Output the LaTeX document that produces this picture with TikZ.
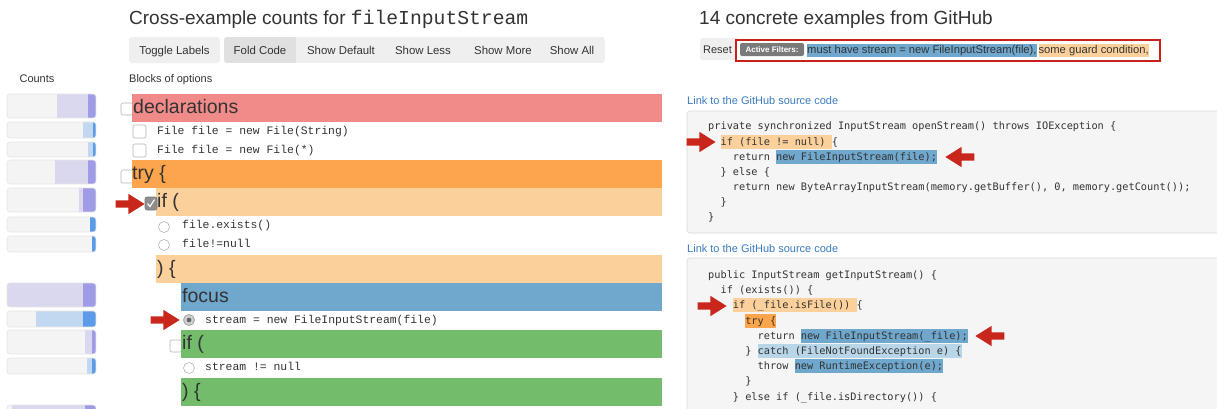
\documentclass[tikz,border=0pt]{standalone}
\usepackage{fontspec}
\setmainfont{Liberation Sans}
\newfontfamily\lmono{Liberation Mono}
\newfontfamily\codefont{DejaVu Sans Mono}
\usetikzlibrary{shapes.arrows}
\definecolor{txt}{HTML}{333333}
\definecolor{redblk}{HTML}{F08B89}
\definecolor{orgblk}{HTML}{FCA54C}
\definecolor{lorange}{HTML}{FBD09B}
\definecolor{fblue}{HTML}{6FA7CD}
\definecolor{lblue}{HTML}{B9D5E8}
\definecolor{grnblk}{HTML}{72BC6B}
\definecolor{arrowred}{HTML}{C9261C}
\definecolor{boxbg}{HTML}{F5F5F5}
\definecolor{boxbd}{HTML}{DADADA}
\definecolor{linkc}{HTML}{3A7BC0}
\definecolor{btnbg}{HTML}{EFEFEF}
\definecolor{btnact}{HTML}{E0E0E0}
\definecolor{cbord}{HTML}{B4B4B4}
\definecolor{barbg}{HTML}{F4F4F4}
\definecolor{barbd}{HTML}{E4E4E4}
\definecolor{lpur}{HTML}{D9D8EF}
\definecolor{dpur}{HTML}{9E9BE7}
\definecolor{lblu}{HTML}{C2D8F0}
\definecolor{dblu}{HTML}{5C9BE7}
\definecolor{filtred}{HTML}{C8201A}
\definecolor{badge}{HTML}{7A7A7A}
\definecolor{chkfill}{HTML}{8E8E8E}
\newcommand\hl[2]{{\setlength{\fboxsep}{0pt}\colorbox{#1}{\rule[-3.5pt]{0pt}{14pt}#2}}}
\newcommand\hlf[2]{{\setlength{\fboxsep}{0pt}\colorbox{#1}{\rule[-3pt]{0pt}{12.5pt}#2}}}
\newcommand\cbar[7]{%
  \begin{scope}
    \clip[rounded corners=3pt] (7,#1) rectangle (96,#2);
    \fill[barbg] (7,#1) rectangle (96,#2);
    \fill[#5] (#3,#1) rectangle (#4,#2);
    \fill[#6] (#4,#1) rectangle (96,#2);
  \end{scope}
  \draw[barbd, line width=0.6pt, rounded corners=3pt] (7,#1) rectangle (96,#2);
  \coordinate (#7) at (51.5,#1);
}
\begin{document}
\begin{tikzpicture}[x=1pt, y=-1pt,
  code/.style={anchor=base west, inner sep=0pt, font=\fontsize{10.27}{12}\selectfont\codefont, text=txt},
  opt/.style={anchor=base west, inner sep=0pt, font=\fontsize{11.4}{13}\selectfont\lmono, text=txt},
  big/.style={anchor=base west, inner sep=0pt, font=\fontsize{19.5}{22}\selectfont, text=txt},
  ui/.style={anchor=base, inner sep=0pt, font=\fontsize{11.4}{13}\selectfont, text=txt},
  small/.style={anchor=base west, inner sep=0pt, font=\fontsize{11}{13}\selectfont, text=txt},
  title/.style={anchor=base west, inner sep=0pt, font=\fontsize{19}{22}\selectfont, text=txt},
  chk/.style={draw=cbord, fill=white, rounded corners=2pt, line width=0.6pt},
  radio/.style={draw=cbord, fill=white, line width=0.6pt},
  redarrow/.style={shape=single arrow, fill=arrowred, draw=none, inner xsep=0pt, inner ysep=3.5pt,
    minimum height=29pt, single arrow head extend=6.5pt, single arrow tip angle=64},
  codebox/.style={fill=boxbg, draw=boxbd, line width=0.7pt, rounded corners=3pt}
]
\useasboundingbox (0,0) rectangle (1217,408);
\clip (0,0) rectangle (1217,408);
\fill[white] (0,0) rectangle (1217,408);

% ---------- left titles and buttons ----------
\node[title] (ltitle) at (129,24) {Cross-example counts for {\lmono\fontsize{19.7}{22}\selectfont fileInputStream}};
\fill[btnbg, rounded corners=3pt] (129,37) rectangle (220,63);
\begin{scope}
  \clip[rounded corners=3pt] (224,37) rectangle (605,63);
  \fill[btnbg] (224,37) rectangle (605,63);
  \fill[btnact] (224,37) rectangle (296,63);
\end{scope}
\node[ui] (b1) at (174.5,54) {Toggle Labels};
\node[ui] (b2) at (260,54) {Fold Code};
\node[ui] (b3) at (341,54) {Show Default};
\node[ui] (b4) at (423,54) {Show Less};
\node[ui] (b5) at (503,54) {Show More};
\node[ui] (b6) at (572,54) {Show All};
\node[ui, anchor=base, font=\fontsize{11}{13}\selectfont] (counts) at (37,82) {Counts};
\node[small] (blocks) at (129,82) {Blocks of options};

% ---------- count bars ----------
\cbar{94}{118}{57}{88}{lpur}{dpur}{cb1}
\cbar{122}{138}{83}{93}{lblu}{dblu}{cb2}
\cbar{142}{157}{88}{93}{lblu}{dblu}{cb3}
\cbar{160}{184}{55}{88}{lpur}{dpur}{cb4}
\cbar{188}{212}{79}{83}{lpur}{dpur}{cb5}
\cbar{217}{232}{90}{90}{lblu}{dblu}{cb6}
\cbar{236}{252}{92}{92}{lblu}{dblu}{cb7}
\cbar{283}{307}{7}{83}{lpur}{dpur}{cb8}
\cbar{311}{327}{36}{83}{lblu}{dblu}{cb9}
\cbar{330}{354}{85}{92}{lpur}{dpur}{cb10}
\cbar{358}{374}{87}{92}{lblu}{dblu}{cb11}
\cbar{405}{430}{12}{85}{lpur}{dpur}{cb12}

% ---------- blocks of options ----------
\draw[chk] (121,103) rectangle (133,115);
\fill[redblk] (132,94) rectangle (662,122);
\node[big] (decl) at (133,113) {declarations};
\draw[chk] (133,125) rectangle (146,138);
\node[opt] (o1) at (157,134) {File file = new File(String)};
\draw[chk] (133,144) rectangle (146,157);
\node[opt] (o2) at (157,153) {File file = new File(*)};

\draw[chk] (121,170) rectangle (133,183);
\fill[orgblk] (132,160) rectangle (662,188);
\node[big] (try) at (132,179) {try \{};
\fill[lorange] (156,188) rectangle (662,216);
\draw[fill=chkfill, draw=chkfill!85!black, rounded corners=2pt, line width=0.6pt] (145,197) rectangle (157,210);
\draw[white, line width=1.1pt] (147.5,203.5) -- (150,206.5) -- (154.5,199.5);
\node[big] (if1) at (157,207) {if (};
\draw[radio] (164,227) circle (5.5);
\node[opt] (o3) at (182,228) {file.exists()};
\draw[radio] (164,245) circle (5.5);
\node[opt] (o4) at (182,247) {file!=null};
\fill[lorange] (156,255) rectangle (662,283);
\node[big] (close1) at (157,274) {) \{};
\fill[fblue] (181,283) rectangle (662,311);
\node[big] (focus) at (182,302) {focus};
\draw[fill=gray!35, draw=gray!75, line width=0.8pt] (189,320) circle (5.5);
\fill[gray!80!black] (189,320) circle (2.4);
\node[opt] (o5) at (205,323) {stream = new FileInputStream(file)};
\draw[chk] (170,340) rectangle (182,352);
\fill[grnblk] (181,330) rectangle (662,358);
\node[big] (if2) at (182,349) {if (};
\draw[radio] (189,368) circle (5.5);
\node[opt] (o6) at (205,370) {stream != null};
\fill[grnblk] (181,378) rectangle (662,406);
\node[big] (close2) at (182,397) {) \{};

\node[redarrow, anchor=tip] (a1) at (145,204) {};
\node[redarrow, anchor=tip] (a2) at (180,320) {};

% ---------- right panel ----------
\node[title] (rtitle) at (699,24) {14 concrete examples from GitHub};
\fill[btnbg, rounded corners=3pt] (700,38) rectangle (740,60);
\node[ui, font=\fontsize{11}{13}\selectfont] (reset) at (717.5,53) {Reset};
\draw[filtred, fill=white, line width=2.4pt] (736,40) rectangle (1160,61);
\fill[badge, rounded corners=2pt] (740,43) rectangle (804,56);
\node[inner sep=0pt, text=white, font=\fontsize{8}{9}\selectfont\bfseries] (badge) at (772,49.5) {Active Filters:};
\node[small, font=\fontsize{11.2}{13}\selectfont] (filters) at (807,53.5) {\hlf{fblue}{must have stream = new FileInputStream(file),}\hspace{2pt}\hlf{lorange}{some guard condition,}};

\node[small, text=linkc] (link1) at (687,104) {Link to the GitHub source code};
\draw[codebox] (687,111) rectangle (1240,233);
\node[code] (p1) at (708,129.5) {private synchronized InputStream openStream() throws IOException \{};
\node[code] (p2) at ({708+2*6.18},145) {\hl{lorange}{if (file != null) }\{};
\node[code] (p3) at ({708+4*6.18},160.5) {return \hl{fblue}{new FileInputStream(file);}};
\node[code] (p4) at ({708+2*6.18},175.5) {\} else \{};
\node[code] (p5) at ({708+4*6.18},190.5) {return new ByteArrayInputStream(memory.getBuffer(), 0, memory.getCount());};
\node[code] (p6) at ({708+2*6.18},205.5) {\}};
\node[code] (p7) at (708,220.5) {\}};
\node[redarrow, anchor=tip] (a3) at (716,142) {};
\node[redarrow, anchor=tip, rotate=180] (a4) at (945,157) {};

\node[small, text=linkc] (link2) at (687,252) {Link to the GitHub source code};
\draw[codebox] (687,258) rectangle (1240,440);
\node[code] (q1) at (708,278.5) {public InputStream getInputStream() \{};
\node[code] (q2) at ({708+2*6.18},293.7) {if (exists()) \{};
\node[code] (q3) at ({708+4*6.18},308.9) {\hl{lorange}{if (\_file.isFile()) }\{};
\node[code] (q4) at ({708+6*6.18},324.1) {\hl{orgblk}{try \{}};
\node[code] (q5) at ({708+8*6.18},339.3) {return \hl{fblue}{new FileInputStream(\_file);}};
\node[code] (q6) at ({708+6*6.18},354.5) {\} \hl{lblue}{catch (FileNotFoundException e) \{}};
\node[code] (q7) at ({708+8*6.18},369.7) {throw \hl{fblue}{new RuntimeException(e);}};
\node[code] (q8) at ({708+6*6.18},384.9) {\}};
\node[code] (q9) at ({708+4*6.18},400.1) {\} else if (\_file.isDirectory()) \{};
\node[redarrow, anchor=tip] (a5) at (727,306) {};
\node[redarrow, anchor=tip, rotate=180] (a6) at (975,336) {};
\end{tikzpicture}
\end{document}
